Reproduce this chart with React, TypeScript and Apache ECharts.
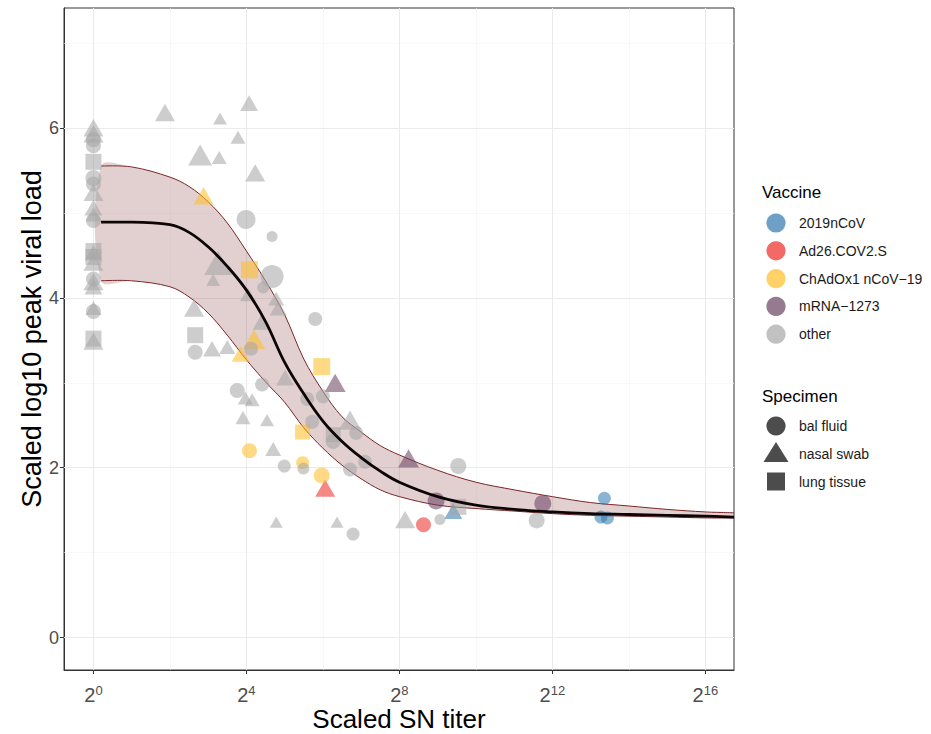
import React, { useEffect, useRef } from "react";
import * as echarts from "echarts";

// ---------- data ----------
const xMajorTicks = [0, 4, 8, 12, 16]; // log2 of scaled SN titer
const xMinorTicks = [2, 6, 10, 14];
const yMajorTicks = [0, 2, 4, 6];
const yMinorTicks = [1, 3, 5, 7];

const vaccines = ["2019nCoV", "Ad26.COV2.S", "ChAdOx1 nCoV\u221219", "mRNA\u22121273", "other"];
const specimens = ["bal fluid", "nasal swab", "lung tissue"];

// [log2 scaled SN titer, scaled log10 peak viral load, specimen, point size]
type Pt = [number, number, string, number];

const pts2019nCoV: Pt[] = [
  [9.41, 1.49, "nasal swab", 18],
  [13.36, 1.64, "bal fluid", 13],
  [13.27, 1.42, "bal fluid", 13],
  [13.44, 1.41, "bal fluid", 13],
];

const ptsAd26: Pt[] = [
  [6.06, 1.76, "nasal swab", 20],
  [8.63, 1.33, "bal fluid", 15],
];

const ptsChAdOx1: Pt[] = [
  [2.88, 5.2, "nasal swab", 20],
  [4.08, 4.33, "lung tissue", 17],
  [4.2, 3.51, "nasal swab", 22],
  [3.85, 3.34, "nasal swab", 18],
  [5.97, 3.19, "lung tissue", 17],
  [5.47, 2.42, "lung tissue", 15],
  [4.08, 2.2, "bal fluid", 15],
  [5.47, 2.06, "bal fluid", 13],
  [5.97, 1.91, "bal fluid", 16],
];

const ptsMRNA: Pt[] = [
  [6.32, 3.0, "nasal swab", 21],
  [8.24, 2.11, "nasal swab", 21],
  [8.96, 1.61, "bal fluid", 17],
  [11.75, 1.58, "bal fluid", 17],
];

const ptsOther: Pt[] = [
  // titer 2^0 column
  [0, 6.0, "nasal swab", 20],
  [0, 5.93, "nasal swab", 20],
  [0, 5.86, "bal fluid", 15],
  [0, 5.79, "bal fluid", 15],
  [0, 5.6, "lung tissue", 16],
  [0, 5.41, "bal fluid", 16],
  [0, 5.34, "bal fluid", 15],
  [0, 5.24, "nasal swab", 20],
  [0, 5.06, "nasal swab", 18],
  [0, 4.98, "nasal swab", 16],
  [0, 4.91, "bal fluid", 15],
  [0, 4.55, "lung tissue", 16],
  [0, 4.53, "nasal swab", 18],
  [0, 4.48, "lung tissue", 16],
  [0, 4.42, "nasal swab", 20],
  [0, 4.22, "bal fluid", 15],
  [0, 4.19, "nasal swab", 20],
  [0, 4.13, "nasal swab", 18],
  [0, 3.88, "nasal swab", 16],
  [0, 3.84, "bal fluid", 15],
  [0, 3.52, "lung tissue", 16],
  [0, 3.49, "nasal swab", 20],
  // rest
  [1.87, 6.18, "nasal swab", 20],
  [4.07, 6.29, "nasal swab", 18],
  [3.31, 6.11, "nasal swab", 14],
  [3.78, 5.89, "nasal swab", 15],
  [2.79, 5.68, "nasal swab", 24],
  [3.29, 5.65, "nasal swab", 15],
  [4.23, 5.47, "nasal swab", 20],
  [3.99, 4.92, "bal fluid", 19],
  [4.67, 4.72, "bal fluid", 11],
  [3.26, 4.41, "nasal swab", 28],
  [3.13, 4.21, "nasal swab", 14],
  [4.67, 4.25, "bal fluid", 23],
  [4.44, 4.12, "bal fluid", 12],
  [4.04, 4.04, "nasal swab", 16],
  [4.78, 3.99, "nasal swab", 16],
  [4.83, 3.88, "nasal swab", 17],
  [2.63, 3.88, "nasal swab", 20],
  [4.41, 3.72, "nasal swab", 19],
  [5.8, 3.75, "bal fluid", 14],
  [2.66, 3.56, "lung tissue", 16],
  [2.66, 3.36, "bal fluid", 15],
  [3.1, 3.4, "nasal swab", 18],
  [3.5, 3.42, "nasal swab", 16],
  [4.12, 3.4, "bal fluid", 14],
  [5.01, 3.06, "nasal swab", 18],
  [4.41, 2.98, "bal fluid", 14],
  [3.76, 2.91, "bal fluid", 15],
  [3.97, 2.82, "nasal swab", 15],
  [4.15, 2.8, "nasal swab", 15],
  [5.59, 2.81, "bal fluid", 14],
  [6.0, 2.84, "bal fluid", 14],
  [3.91, 2.59, "nasal swab", 15],
  [4.54, 2.56, "nasal swab", 14],
  [5.72, 2.54, "bal fluid", 14],
  [6.71, 2.56, "nasal swab", 22],
  [6.27, 2.39, "lung tissue", 15],
  [6.27, 2.31, "bal fluid", 15],
  [6.87, 2.41, "bal fluid", 14],
  [4.7, 2.22, "nasal swab", 16],
  [4.99, 2.02, "bal fluid", 13],
  [5.49, 1.99, "bal fluid", 12],
  [6.71, 1.98, "bal fluid", 14],
  [7.1, 2.07, "bal fluid", 14],
  [9.54, 2.02, "bal fluid", 16],
  [4.78, 1.36, "nasal swab", 13],
  [6.37, 1.36, "nasal swab", 13],
  [6.79, 1.22, "bal fluid", 13],
  [8.15, 1.39, "nasal swab", 20],
  [9.06, 1.39, "bal fluid", 11],
  [9.54, 1.54, "lung tissue", 16],
  [11.59, 1.38, "bal fluid", 16],
];

// fitted curve and its band
const curveX = [0.2, 1, 2, 2.5, 3, 3.5, 4, 4.5, 5, 5.5, 6, 6.5, 7, 7.5, 8, 9, 10, 11, 12, 13, 14, 15, 16, 16.75];
const curveFit = [4.89, 4.89, 4.86, 4.77, 4.6, 4.37, 4.09, 3.72, 3.24, 2.87, 2.55, 2.31, 2.12, 1.96, 1.83, 1.66, 1.56, 1.51, 1.48, 1.46, 1.45, 1.44, 1.43, 1.42];
const curveUpper = [5.55, 5.54, 5.42, 5.31, 5.13, 4.88, 4.55, 4.2, 3.8, 3.28, 2.9, 2.6, 2.42, 2.26, 2.15, 1.97, 1.83, 1.74, 1.66, 1.59, 1.55, 1.51, 1.48, 1.47];
const curveLower = [4.2, 4.2, 4.13, 4.01, 3.82, 3.56, 3.27, 3.01, 2.77, 2.47, 2.23, 2.03, 1.87, 1.74, 1.66, 1.56, 1.52, 1.49, 1.46, 1.44, 1.43, 1.42, 1.41, 1.41];

// ---------- styling ----------
const FONT = '"Liberation Sans", Arial, Helvetica, sans-serif';
const vaccineBase = ["#3177AF", "#EC2A23", "#FFBD25", "#694160", "#A6A6A6"];
const ALPHA = 0.7;
const symbolOf: Record<string, string> = { "bal fluid": "circle", "nasal swab": "triangle", "lung tissue": "rect" };

function rgba(hex: string, a: number) {
  const n = parseInt(hex.slice(1), 16);
  return `rgba(${(n >> 16) & 255},${(n >> 8) & 255},${n & 255},${a})`;
}

function toItems(pts: Pt[]) {
  return pts.map(([x, y, sp, s]) => ({
    value: [x, y],
    symbol: symbolOf[sp],
    symbolSize: sp === "nasal swab" ? [s, s * 0.87] : s,
  }));
}

const seriesPts = [pts2019nCoV, ptsAd26, ptsChAdOx1, ptsMRNA, ptsOther];

export default function App() {
  const ref = useRef<HTMLDivElement>(null);
  useEffect(() => {
    if (!ref.current) return;
    const chart = echarts.init(ref.current, null, { renderer: "svg" });

    const gridMajor = { color: "#EBEBEB", width: 1.1, type: "solid" };
    const gridMinor = { color: "#F3F3F3", width: 0.6, type: "solid" };
    const markData: any[] = [
      ...xMinorTicks.map((v) => ({ xAxis: v, lineStyle: gridMinor })),
      ...yMinorTicks.map((v) => ({ yAxis: v, lineStyle: gridMinor })),
      ...xMajorTicks.map((v) => ({ xAxis: v, lineStyle: gridMajor })),
      ...yMajorTicks.map((v) => ({ yAxis: v, lineStyle: gridMajor })),
    ];

    const lineColor = "#7A2626";
    const SMOOTH = 0.35;

    const legendGraphics: any[] = [];
    const lx = 776;
    legendGraphics.push({
      type: "text", x: 762, y: 192,
      style: { text: "Vaccine", fontSize: 17, fontFamily: FONT, fill: "#000", align: "left", verticalAlign: "middle" },
    });
    vaccines.forEach((v, i) => {
      const cy = 223 + i * 27.8;
      legendGraphics.push({ type: "circle", shape: { cx: lx, cy, r: 9.6 }, style: { fill: rgba(vaccineBase[i], ALPHA) } });
      legendGraphics.push({
        type: "text", x: 799, y: cy,
        style: { text: v, fontSize: 14, fontFamily: FONT, fill: "#1A1A1A", align: "left", verticalAlign: "middle" },
      });
    });
    legendGraphics.push({
      type: "text", x: 762, y: 396,
      style: { text: "Specimen", fontSize: 17, fontFamily: FONT, fill: "#000", align: "left", verticalAlign: "middle" },
    });
    const dark = "rgba(0,0,0,0.7)";
    const specY = [426, 453.5, 481.5];
    legendGraphics.push({ type: "circle", shape: { cx: lx, cy: specY[0], r: 9.6 }, style: { fill: dark } });
    legendGraphics.push({
      type: "polygon",
      shape: { points: [[lx, specY[1] - 11.5], [lx - 12.5, specY[1] + 8.5], [lx + 12.5, specY[1] + 8.5]] },
      style: { fill: dark },
    });
    legendGraphics.push({ type: "rect", shape: { x: lx - 9, y: specY[2] - 9, width: 18, height: 18 }, style: { fill: dark } });
    specimens.forEach((s, i) => {
      legendGraphics.push({
        type: "text", x: 799, y: specY[i],
        style: { text: s, fontSize: 14, fontFamily: FONT, fill: "#1A1A1A", align: "left", verticalAlign: "middle" },
      });
    });

    const option: any = {
      animation: false,
      backgroundColor: "#FFFFFF",
      textStyle: { fontFamily: FONT },
      grid: {
        left: 64, top: 8, width: 670, height: 662,
        show: true, borderColor: "#333333", borderWidth: 1, backgroundColor: "transparent",
        containLabel: false, outerBoundsMode: "none",
      },
      xAxis: {
        type: "value", min: -0.77, max: 16.75,
        splitLine: { show: false },
        axisLine: { show: true, onZero: false, lineStyle: { color: "#333333", width: 1 } },
        axisTick: { show: true, length: 4, lineStyle: { color: "#333333", width: 1 }, customValues: xMajorTicks },
        axisLabel: {
          customValues: xMajorTicks,
          margin: 15,
          formatter: (v: number) => `{b|2}{s|${v}}`,
          rich: {
            b: { fontSize: 20, lineHeight: 20, color: "#4D4D4D", fontFamily: FONT },
            s: { fontSize: 13, lineHeight: 13, color: "#4D4D4D", fontFamily: FONT, padding: [0, 0, 10, 0] },
          },
        },
        name: "Scaled SN titer",
        nameLocation: "middle",
        nameGap: 36,
        nameMoveOverlap: false,
        nameTextStyle: { fontSize: 26, lineHeight: 26, color: "#000", fontFamily: FONT },
      },
      yAxis: {
        type: "value", min: -0.38, max: 7.41,
        splitLine: { show: false },
        axisLine: { show: true, onZero: false, lineStyle: { color: "#333333", width: 1 } },
        axisTick: { show: true, length: 4, lineStyle: { color: "#333333", width: 1 }, customValues: yMajorTicks },
        axisLabel: { customValues: yMajorTicks, margin: 5, fontSize: 18, color: "#4D4D4D", fontFamily: FONT },
        name: "Scaled log10 peak viral load",
        nameLocation: "middle",
        nameGap: 19,
        nameRotate: 90,
        nameMoveOverlap: false,
        nameTextStyle: { fontSize: 27, color: "#000", fontFamily: FONT },
      },
      graphic: legendGraphics,
      series: [
        {
          name: "confidence band",
          type: "custom",
          z: 2,
          silent: true,
          clip: true,
          encode: { x: 0, y: [1, 2] },
          data: curveX.map((x, i) => [x, curveLower[i], curveUpper[i]]),
          renderItem: (params: any, api: any) => {
            if (params.dataIndex !== 0) return null;
            const up = curveX.map((x, i) => api.coord([x, curveUpper[i]]));
            const lo = curveX.map((x, i) => api.coord([x, curveLower[i]]));
            const loRev = lo.slice().reverse();
            return {
              type: "group",
              children: [
                {
                  type: "polygon",
                  shape: { points: up.concat(loRev), smooth: SMOOTH },
                  style: { fill: "rgba(139,69,69,0.25)", stroke: "none" },
                },
                {
                  type: "polyline",
                  shape: { points: up, smooth: SMOOTH },
                  style: { fill: "none", stroke: lineColor, lineWidth: 1 },
                },
                {
                  type: "polyline",
                  shape: { points: lo, smooth: SMOOTH },
                  style: { fill: "none", stroke: lineColor, lineWidth: 1 },
                },
              ],
            };
          },
        },
        ...seriesPts.map((pts, i) => ({
          name: vaccines[i],
          type: "scatter",
          z: 3,
          itemStyle: { color: rgba(vaccineBase[i], ALPHA) },
          data: toItems(pts),
        })),
        {
          name: "fit",
          type: "line",
          smooth: 0.4,
          symbol: "none",
          z: 4,
          silent: true,
          lineStyle: { color: "#0D0505", width: 2.8 },
          data: curveX.map((x, i) => [x, curveFit[i]]),
          markLine: {
            silent: true,
            symbol: ["none", "none"],
            label: { show: false },
            z: 1,
            data: markData,
          },
        },
      ],
    };
    chart.setOption(option);
    return () => chart.dispose();
  }, []);

  return (
    <div
      ref={ref}
      style={{ position: "fixed", left: 0, top: 0, width: 931, height: 734, background: "#fff" }}
    />
  );
}
